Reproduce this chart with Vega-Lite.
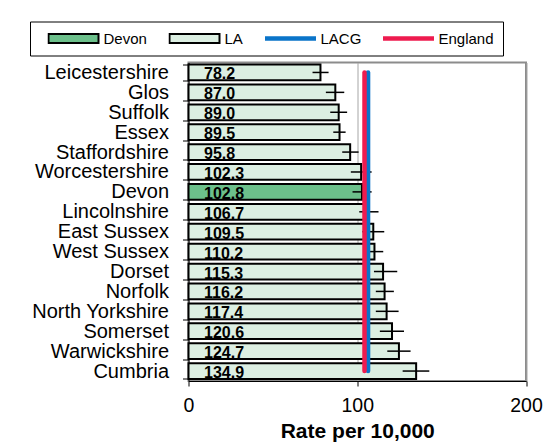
{
  "$schema": "https://vega.github.io/schema/vega-lite/v6.json",
  "width": 337.5,
  "height": 318.5,
  "autosize": {"type": "none"},
  "padding": {"left": 188.5, "top": 62.5, "right": 31, "bottom": 64},
  "background": "white",
  "config": {
    "font": "Liberation Sans",
    "view": {"stroke": "#8c8c8c", "strokeWidth": 2},
    "axis": {"labelColor": "black", "titleColor": "black", "domainColor": "black", "tickColor": "black", "labelFont": "Liberation Sans", "titleFont": "Liberation Sans"}
  },
  "datasets": {
    "rates": [
      {"county": "Leicestershire", "rate": 78.2, "lo": 73.5, "hi": 83.0, "cat": "LA"},
      {"county": "Glos", "rate": 87.0, "lo": 81.4, "hi": 92.3, "cat": "LA"},
      {"county": "Suffolk", "rate": 89.0, "lo": 84.0, "hi": 94.0, "cat": "LA"},
      {"county": "Essex", "rate": 89.5, "lo": 85.8, "hi": 93.1, "cat": "LA"},
      {"county": "Staffordshire", "rate": 95.8, "lo": 91.1, "hi": 100.8, "cat": "LA"},
      {"county": "Worcestershire", "rate": 102.3, "lo": 96.2, "hi": 108.5, "cat": "LA"},
      {"county": "Devon", "rate": 102.8, "lo": 97.2, "hi": 108.5, "cat": "Devon"},
      {"county": "Lincolnshire", "rate": 106.7, "lo": 101.2, "hi": 112.6, "cat": "LA"},
      {"county": "East Sussex", "rate": 109.5, "lo": 103.0, "hi": 116.0, "cat": "LA"},
      {"county": "West Sussex", "rate": 110.2, "lo": 105.0, "hi": 115.4, "cat": "LA"},
      {"county": "Dorset", "rate": 115.3, "lo": 109.9, "hi": 123.7, "cat": "LA"},
      {"county": "Norfolk", "rate": 116.2, "lo": 111.0, "hi": 121.7, "cat": "LA"},
      {"county": "North Yorkshire", "rate": 117.4, "lo": 111.0, "hi": 124.5, "cat": "LA"},
      {"county": "Somerset", "rate": 120.6, "lo": 113.4, "hi": 127.7, "cat": "LA"},
      {"county": "Warwickshire", "rate": 124.7, "lo": 117.8, "hi": 131.6, "cat": "LA"},
      {"county": "Cumbria", "rate": 134.9, "lo": 126.9, "hi": 142.7, "cat": "LA"}
    ],
    "lacg": [
      {"county": "Leicestershire", "rate": 106.4, "cat": "LACG"},
      {"county": "Cumbria", "rate": 106.4, "cat": "LACG"}
    ],
    "england": [
      {"county": "Leicestershire", "rate": 104.3, "cat": "England"},
      {"county": "Cumbria", "rate": 104.3, "cat": "England"}
    ]
  },
  "encoding": {
    "y": {
      "field": "county", "type": "nominal", "sort": null,
      "scale": {"domain": ["Leicestershire", "Glos", "Suffolk", "Essex", "Staffordshire", "Worcestershire", "Devon", "Lincolnshire", "East Sussex", "West Sussex", "Dorset", "Norfolk", "North Yorkshire", "Somerset", "Warwickshire", "Cumbria"], "paddingInner": 0.21, "paddingOuter": 0.105},
      "axis": {"title": null, "tickBand": "extent", "tickSize": 6, "labelPadding": 14, "labelFontSize": 20, "domainWidth": 1, "tickWidth": 1}
    }
  },
  "layer": [
    {
      "data": {"name": "rates"},
      "mark": {"type": "bar", "stroke": "black", "strokeWidth": 2, "opacity": 1},
      "encoding": {
        "x": {
          "field": "rate", "type": "quantitative",
          "scale": {"domain": [0, 200], "nice": false},
          "axis": {"values": [0, 100, 200], "title": "Rate per 10,000", "titleFontSize": 21, "titleFontWeight": "bold", "labelFontSize": 19.5, "tickSize": 5, "labelPadding": 10.5, "titlePadding": 5, "grid": true, "gridColor": "#a6a6a6", "gridWidth": 1, "labelFlush": false}
        },
        "color": {
          "field": "cat", "type": "nominal",
          "scale": {"domain": ["Devon", "LA", "LACG", "England"], "range": ["#6cc08b", "#dcefe2", "#0a74c9", "#ee1b4f"]},
          "legend": {
            "title": " ", "titleOrient": "left", "titlePadding": 8.5, "titleFontSize": 15,
            "orient": "none", "legendX": -158.5, "legendY": -41,
            "direction": "horizontal", "columns": 4, "columnPadding": 21,
            "padding": 9, "strokeColor": "black",
            "labelFontSize": 15, "labelColor": "black", "labelFont": "Liberation Sans", "labelOffset": 4,
            "symbolSize": 2500, "clipHeight": 16, "symbolOpacity": 1, "symbolStrokeWidth": 2,
            "symbolType": {"expr": "datum.value === 'Devon' || datum.value === 'LA' ? 'M-1,-0.18H1V0.18H-1Z' : 'M-0.98,-0.05H0.98V0.05H-0.98Z'"},
            "symbolStrokeColor": {"expr": "datum.value === 'Devon' || datum.value === 'LA' ? 'black' : scale('color', datum.value)"}
          }
        }
      }
    },
    {
      "data": {"name": "rates"},
      "mark": {"type": "rule", "color": "black", "strokeWidth": 1.5},
      "encoding": {
        "x": {"field": "lo", "type": "quantitative"},
        "x2": {"field": "hi"}
      }
    },
    {
      "data": {"name": "lacg"},
      "mark": {"type": "line", "strokeWidth": 4.5, "strokeCap": "round", "color": "#0a74c9"},
      "encoding": {
        "x": {"field": "rate", "type": "quantitative"}
      }
    },
    {
      "data": {"name": "england"},
      "mark": {"type": "line", "strokeWidth": 4.5, "strokeCap": "round", "color": "#ee1b4f"},
      "encoding": {
        "x": {"field": "rate", "type": "quantitative"}
      }
    },
    {
      "data": {"name": "rates"},
      "mark": {"type": "text", "align": "left", "baseline": "alphabetic", "dx": 15.5, "dy": 7, "fontSize": 16, "fontWeight": "bold", "color": "black"},
      "encoding": {
        "x": {"datum": 0, "type": "quantitative"},
        "text": {"field": "rate", "type": "quantitative", "format": ".1f"}
      }
    }
  ]
}
